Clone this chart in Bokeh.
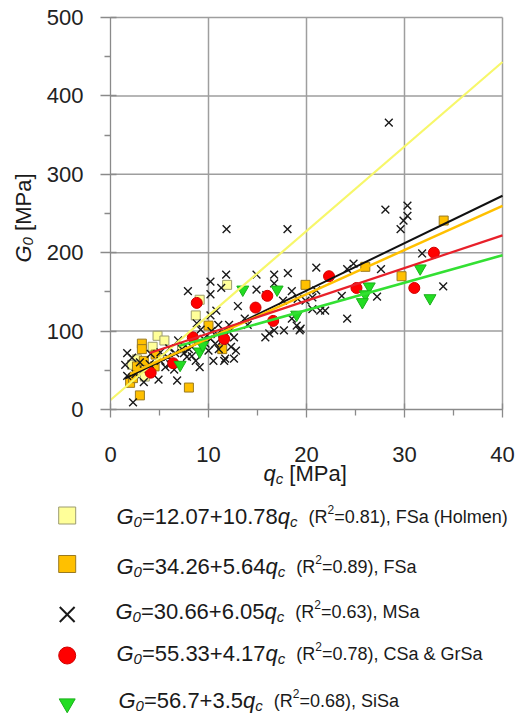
import numpy as np
from bokeh.plotting import figure
from bokeh.models import Range1d, FixedTicker, Label
from bokeh.embed import file_html
from bokeh.resources import INLINE

# ---------------- data ----------------
holmen_q = [11.9, 9.1, 8.7, 4.8, 4.3, 2.7, 2.2, 3.0, 3.5, 7.3, 5.5]
holmen_g = [159, 140, 120, 94, 80, 64, 57, 50, 42, 78, 88]

fsa_q = [2.0, 2.3, 2.7, 3.0, 3.2, 3.2, 3.4, 4.5, 4.6, 8.0, 10.0, 11.4, 19.9, 26.0, 29.7, 34.0]
fsa_g = [34, 40, 55, 18, 84, 77, 62, 55, 70, 28, 107, 77, 159, 182, 170, 241]

msa_q = [1.7, 1.5, 2.3, 1.7, 2.55, 3.4, 4.9, 5.1, 5.8, 6.1, 5.1, 6.8, 7.8, 8.0, 8.7, 9.1,
         10.0, 10.5, 11.6, 12.6, 10.7, 11.4, 12.3, 12.6, 6.9, 5.6, 4.1, 3.4, 6.5, 2.2,
         3.0, 4.0, 6.0, 7.5, 9.5, 10.3, 11.0,
         7.9, 10.2, 11.3, 11.8, 10.2, 13.0, 10.8, 8.8, 9.2, 10.2, 14.9, 16.7, 18.1, 16.7,
         14.9, 18.5, 15.9, 17.6, 19.9, 19.1, 18.5, 19.0, 19.3, 17.7, 16.7, 15.8, 16.2, 13.7,
         14.0, 12.1, 12.1, 10.9, 10.2, 9.7, 11.05, 12.8, 11.7, 7.3, 8.3, 8.3, 6.6, 21.0,
         11.84, 18.06,
         28.4, 28.05, 30.3, 30.3, 29.9, 29.6, 31.8, 33.95, 24.15, 24.8, 27.6, 23.6, 27.2,
         24.15, 21.0, 20.6, 20.6, 21.4, 21.9, 19.4]
msa_g = [72, 57, 9, 43, 45, 35, 38, 73, 67, 58, 62, 37, 67, 77, 62, 54,
         75, 62, 62, 65, 84, 88, 80, 92, 88, 54, 71, 50, 51, 66,
         60, 58, 78, 72, 90, 100, 108,
         151, 163, 155, 172, 147, 132, 126, 110, 102, 120, 172, 172, 174, 161,
         153, 151, 146, 139, 139, 141, 116, 107, 101, 101, 101, 92, 97, 116,
         108, 108, 99, 96, 90, 84, 77, 75, 65, 77, 68, 80, 72, 181,
         230, 230,
         366, 255, 260, 247, 241, 230, 199, 157, 179, 186, 179, 145, 144,
         116, 152, 143, 128, 126, 126, 103]

csa_q = [8.8, 16.0, 14.8, 16.6, 8.4, 11.6, 6.4, 4.1, 22.3, 25.1, 31.0, 33.0]
csa_g = [136, 145, 130, 113, 92, 90, 59, 47, 170, 155, 155, 200]

sisa_q = [13.5, 17.0, 19.0, 9.1, 7.1, 9.4, 26.4, 26.0, 25.7, 31.6, 32.6]
sisa_g = [153, 153, 121, 74, 57, 82, 157, 147, 137, 180, 142]

fit_intercept = [12.07, 34.26, 30.66, 55.33, 56.7]
fit_slope = [10.78, 5.64, 6.05, 4.17, 3.5]
fit_r2 = ["0.81", "0.89", "0.63", "0.78", "0.68"]
fit_group = ["FSa (Holmen)", "FSa", "MSa", "CSa & GrSa", "SiSa"]
fit_qmin = [0.0, 2.0, 1.5, 4.0, 7.0]
fit_qmax = [40.0, 40.0, 40.0, 40.0, 40.0]

x_ticks = [0, 10, 20, 30, 40]
x_minor = [5, 15, 25, 35]
y_ticks = [0, 100, 200, 300, 400, 500]
y_minor = [50, 150, 250, 350, 450]

# ---------------- layout (pixels) ----------------
CW, CH = 516, 716
QX0, QSCALE = 110.0, 9.8     # pixel of q=0, pixels per MPa
GY0, GSCALE = 409.0, 0.784   # pixel of G=0, pixels per MPa
BASE_FIX = -7.0              # correction of the rendered baseline position


def dx(px):
    return (px - QX0) / QSCALE


def dy(py):
    return (GY0 - py) / GSCALE


FONT = "Liberation Sans"
TXT = "#1a1a1a"
GRID = "#9e9e9e"
AXIS = "#8a8a8a"

marker_style = [
    dict(marker="square", size=9, fill_color="#FFFF99", line_color="#9c9c70", line_width=1),
    dict(marker="square", size=9, fill_color="#FFC000", line_color="#9a7a20", line_width=1),
    dict(marker="x", size=11, fill_color=None, line_color="#1a1a1a", line_width=1.4),
    dict(marker="circle", size=11, fill_color="#FF0000", line_color="#d00000", line_width=1),
    dict(marker="inverted_triangle", size=12, fill_color="#22DD22", line_color="#1cb01c", line_width=1),
]
line_colors = ["#F7F76A", "#FFC000", "#111111", "#E8202A", "#33E033"]
line_widths = [2.2, 2.5, 2.0, 2.2, 2.5]

# Arial / Liberation Sans advance widths (per 1000 em)
W = {" ": 278, "(": 333, ")": 333, "+": 584, ",": 278, ".": 278, "=": 584, "&": 667,
     "[": 278, "]": 278, "C": 722, "F": 611, "G": 778, "H": 722, "M": 833, "P": 667,
     "R": 722, "S": 667, "a": 556, "c": 500, "e": 556, "i": 222, "l": 222, "m": 833,
     "n": 556, "o": 556, "q": 556, "r": 333}
for d in "0123456789":
    W[d] = 556


def tw(s, size):
    return sum(W.get(ch, 556) for ch in s) * size / 1000.0


def rich(plot, x, y, pieces, angle=0.0):
    """x, y: pixel position of the baseline start (page pixels, y down)."""
    pos = 0.0
    for text, size, italic, shift, gap in pieces:
        pos += gap
        stripped = text.lstrip(" ")
        pos += tw(text[: len(text) - len(stripped)], size)
        s = shift + BASE_FIX
        if angle == 0.0:
            lx, ly = x + pos, y + s
        else:
            lx, ly = x + s, y - pos
        plot.add_layout(Label(x=dx(lx), y=dy(ly), x_units="data", y_units="data", text=stripped,
                              text_font=FONT, text_font_size=f"{size}px",
                              text_font_style="italic" if italic else "normal",
                              text_baseline="alphabetic", text_align="left",
                              angle=angle, text_color=TXT))
        pos += tw(stripped, size)


# ---------------- chart ----------------
p = figure(width=CW, height=CH, x_range=Range1d(dx(0), dx(CW)), y_range=Range1d(dy(CH), dy(0)),
           output_backend="svg", toolbar_location=None, min_border=0,
           background_fill_color="white", border_fill_color="white")
p.grid.visible = False
p.outline_line_color = None

# grid lines (incl. top and right border)
p.segment(x0=x_ticks[1:], y0=[y_ticks[0]] * 4, x1=x_ticks[1:], y1=[y_ticks[-1]] * 4,
          line_color=GRID, line_width=1.5)
p.segment(x0=[x_ticks[0]] * 5, y0=y_ticks[1:], x1=[x_ticks[-1]] * 5, y1=y_ticks[1:],
          line_color=GRID, line_width=1.5)

p.xaxis.ticker = FixedTicker(ticks=x_ticks, minor_ticks=x_minor)
p.yaxis.ticker = FixedTicker(ticks=y_ticks, minor_ticks=y_minor)
p.xaxis.fixed_location = 0
p.yaxis.fixed_location = 0
p.xaxis.bounds = (x_ticks[0], x_ticks[-1])
p.yaxis.bounds = (y_ticks[0], y_ticks[-1])
for ax in (p.xaxis, p.yaxis):
    ax.axis_line_color = AXIS
    ax.axis_line_width = 1.3
    ax.major_tick_line_color = AXIS
    ax.minor_tick_line_color = AXIS
    ax.major_tick_line_width = 1.3
    ax.minor_tick_line_width = 1.3
    ax.major_label_text_font = FONT
    ax.major_label_text_font_size = "22px"
    ax.major_label_text_color = "#222222"
p.xaxis.major_tick_in = 6
p.xaxis.major_tick_out = 8
p.xaxis.minor_tick_in = 0
p.xaxis.minor_tick_out = 6
p.xaxis.major_label_standoff = 29
p.yaxis.major_tick_in = 6
p.yaxis.major_tick_out = 10
p.yaxis.minor_tick_in = 0
p.yaxis.minor_tick_out = 6
p.yaxis.major_label_standoff = 17

series = [(holmen_q, holmen_g), (fsa_q, fsa_g), (msa_q, msa_g), (csa_q, csa_g), (sisa_q, sisa_g)]
for (qs, gs), st in zip(series, marker_style):
    p.scatter(qs, gs, **st)

for i in [0, 2, 1, 3, 4]:
    xs = np.array([fit_qmin[i], fit_qmax[i]])
    ys = fit_intercept[i] + fit_slope[i] * xs
    p.line(xs, ys, line_color=line_colors[i], line_width=line_widths[i])

# axis titles
rich(p, 263, 480, [("q", 22, True, 0, 0), ("c", 15, True, 5, 0), (" [MPa]", 22, False, 0, 0)])
rich(p, 29.5, 262, [("G", 22, True, 0, 0), ("0", 15, True, 5, 0), (" [MPa]", 22, False, 0, 0)],
     angle=np.pi / 2)

# ---------------- legend ----------------
leg_marker_px = [66.7] * 5
leg_marker_py = [515, 563.5, 614, 655, 703]
leg_sizes = [17, 17, 21, 17, 16]
for i, st in enumerate(marker_style):
    s = dict(st)
    s["size"] = leg_sizes[i]
    if s["marker"] == "x":
        s["line_width"] = 2
    p.scatter([dx(leg_marker_px[i])], [dy(leg_marker_py[i])], **s)

row_px = [116, 116, 115, 116, 118]
row_py = [523, 573, 618, 660, 707]
for i in range(5):
    a, b = fit_intercept[i], fit_slope[i]
    pieces = [("G", 22, True, 0, 0), ("0", 15, True, 5, 0),
              (f"={a:g}+{b:g}", 22, False, 0, 0), ("q", 22, True, 0, 0), ("c", 15, True, 5, 0),
              ("(R", 18, False, 0, 11), ("2", 12, False, -7, 0),
              (f"={fit_r2[i]}), {fit_group[i]}", 18, False, 0, 0)]
    rich(p, row_px[i], row_py[i], pieces)

open("out.html", "w").write(file_html(p, INLINE))
